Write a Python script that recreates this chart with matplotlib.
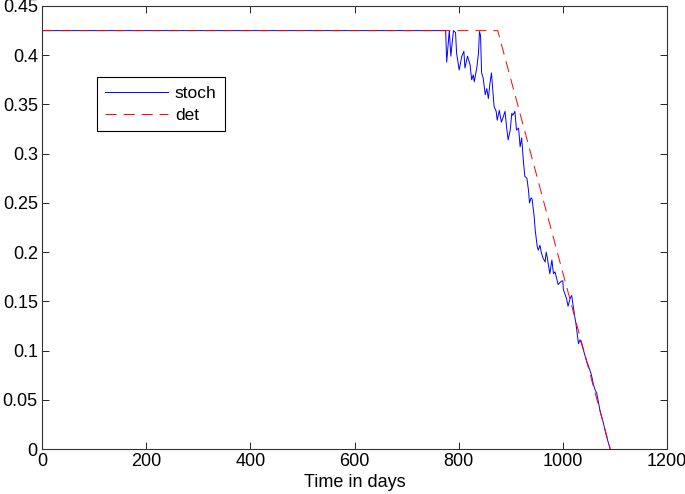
import matplotlib
matplotlib.use('Agg')
from matplotlib import pyplot

# stochastic trajectory
stoch_t = [0, 775, 777, 782, 785, 790, 794, 796, 801, 806, 810, 812, 817, 822,
           825, 828, 830, 835, 838, 840, 842, 844, 847, 851, 854, 857, 860, 863,
           865, 868, 872, 874, 878, 882, 886, 889, 892, 895, 899, 902, 904, 908,
           911, 915, 918, 921, 924, 927, 931, 934, 936, 939, 941, 945, 947, 951,
           953, 956, 959, 962, 966, 968, 970, 975, 979, 982, 985, 991, 996, 1000,
           1001, 1007, 1010, 1014, 1017, 1020, 1023, 1025, 1030, 1033, 1036, 1043,
           1046, 1052, 1055, 1059, 1062, 1065, 1071, 1078, 1084, 1091]
stoch_y = [0.425, 0.425, 0.393, 0.425, 0.399, 0.425, 0.423, 0.402, 0.385, 0.399,
           0.404, 0.387, 0.399, 0.390, 0.375, 0.380, 0.373, 0.388, 0.402, 0.424,
           0.420, 0.382, 0.377, 0.360, 0.366, 0.356, 0.371, 0.382, 0.368, 0.348,
           0.343, 0.334, 0.344, 0.332, 0.338, 0.343, 0.327, 0.314, 0.324, 0.341,
           0.339, 0.343, 0.324, 0.326, 0.307, 0.316, 0.294, 0.277, 0.275, 0.263,
           0.250, 0.255, 0.254, 0.236, 0.222, 0.205, 0.202, 0.207, 0.199, 0.194,
           0.190, 0.200, 0.195, 0.178, 0.192, 0.178, 0.180, 0.167, 0.170, 0.171,
           0.162, 0.153, 0.145, 0.153, 0.156, 0.145, 0.134, 0.128, 0.107, 0.111,
           0.107, 0.094, 0.089, 0.080, 0.075, 0.065, 0.060, 0.057, 0.040, 0.026,
           0.0125, 0.0]

# deterministic trajectory
det_t = [0, 875, 1091]
det_y = [0.425, 0.425, 0.0]

x_ticks = [0, 200, 400, 600, 800, 1000, 1200]
y_ticks = [0, 0.05, 0.1, 0.15, 0.2, 0.25, 0.3, 0.35, 0.4, 0.45]
y_labels = ['0', '0.05', '0.1', '0.15', '0.2', '0.25', '0.3', '0.35', '0.4', '0.45']


def main():
    pyplot.rcParams['font.family'] = ['Liberation Sans', 'DejaVu Sans']
    pyplot.rcParams['lines.scale_dashes'] = False

    fig = pyplot.figure(figsize=(6.85, 4.94), dpi=100)
    ax = fig.add_axes([42 / 685, 45 / 494, 625 / 685, 443 / 494])

    ax.plot(stoch_t, stoch_y, '-', color='#0000ff', linewidth=0.7, label='stoch')
    ax.plot(det_t, det_y, '--', color='#ff0000', linewidth=0.7, dashes=(8, 5), label='det')

    ax.set_xlim(0, 1200)
    ax.set_ylim(0, 0.45)
    ax.set_xticks(x_ticks)
    ax.set_yticks(y_ticks)
    ax.set_yticklabels(y_labels)
    ax.tick_params(direction='in', length=5, width=0.6, labelsize=13,
                   top=True, right=True, pad=3)
    for spine in ax.spines.values():
        spine.set_linewidth(0.8)
        spine.set_color('#333333')

    ax.set_xlabel('Time in days', fontsize=13, labelpad=3)

    leg = ax.legend(loc='upper left', bbox_to_anchor=(0.0875, 0.84), fontsize=12.5,
                    fancybox=False, framealpha=1, edgecolor='black',
                    borderaxespad=0, handlelength=3.6, handletextpad=0.4,
                    borderpad=0.5, labelspacing=0.4)
    leg.get_frame().set_linewidth(0.8)

    fig.savefig('out.png', dpi=100)


if __name__ == '__main__':
    main()
